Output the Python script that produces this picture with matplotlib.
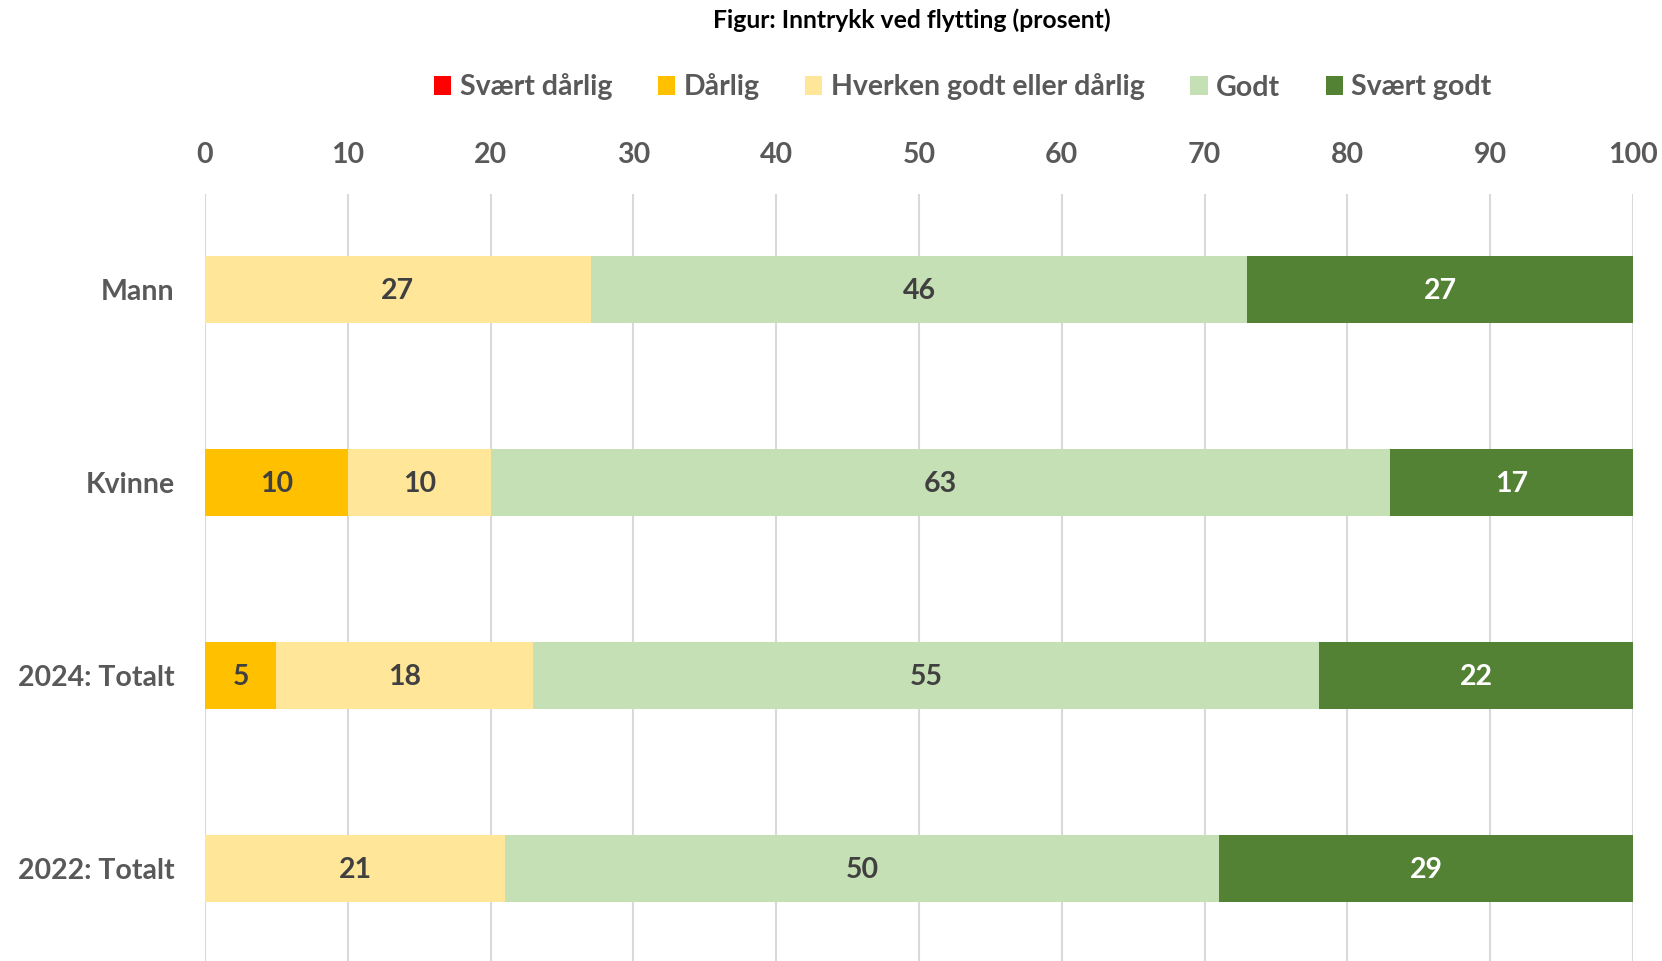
import numpy as np
import matplotlib
matplotlib.use("Agg")
import matplotlib.pyplot as plt

# data
groups = ['Mann', 'Kvinne', '2024: Totalt', '2022: Totalt']
series = ['Svært dårlig', 'Dårlig', 'Hverken godt eller dårlig', 'Godt', 'Svært godt']
svaert_darlig = [0, 0, 0, 0]
darlig = [0, 10, 5, 0]
hverken = [27, 10, 18, 21]
godt = [46, 63, 55, 50]
svaert_godt = [27, 17, 22, 29]

colors = ['#FF0000', '#FFC000', '#FFE699', '#C5E0B4', '#548235']
label_colors = ['#404040', '#404040', '#404040', '#404040', '#FFFFFF']

plt.rcParams['font.family'] = ['Lato', 'DejaVu Sans']
plt.rcParams['font.weight'] = 'bold'

fig = plt.figure(figsize=(16.62, 9.61), dpi=100)
ax = fig.add_axes([205/1662, 0.0, (1633-205)/1662, 1 - 194/961])

y = np.arange(len(groups))
left = np.zeros(len(groups))
for name, vals, c, lc in zip(series, [svaert_darlig, darlig, hverken, godt, svaert_godt], colors, label_colors):
    vals = np.array(vals, dtype=float)
    bars = ax.barh(y, vals, left=left, height=0.35, color=c, label=name, zorder=3)
    for b, v in zip(bars, vals):
        if v > 0:
            ax.text(b.get_x() + b.get_width()/2, b.get_y() + b.get_height()/2 + 0.01, f'{v:.0f}',
                    ha='center', va='center', color=lc, fontsize=20.5, fontweight='bold', zorder=4)
    left += vals

ax.set_xlim(0, 100)
ax.set_ylim(3.48, -0.495)
ax.set_xticks(range(0, 101, 10))
ax.set_yticks(y)
ax.set_yticklabels(groups)
ax.xaxis.tick_top()
ax.tick_params(axis='x', length=0, pad=19, labelsize=20.5, labelcolor='#595959')
ax.tick_params(axis='y', length=0, pad=22, labelsize=20.5, labelcolor='#595959')
for lab in ax.get_xticklabels() + ax.get_yticklabels():
    lab.set_fontweight('bold')
ax.grid(axis='x', color='#D9D9D9', linewidth=1.5, zorder=0)
for s in ax.spines.values():
    s.set_visible(False)

fig.text(912/1662, 1 - 20/961, 'Figur: Inntrykk ved flytting (prosent)', ha='center', va='center',
         fontsize=17.8, fontweight='bold', color='#000000')

leg = fig.legend(loc='center', bbox_to_anchor=(963/1662, 1 - 87/961), ncol=5, frameon=False,
                 handlelength=0.6, handleheight=0.6, handletextpad=0.3, columnspacing=1.6,
                 prop={'size': 20.5, 'weight': 'bold'})
for t in leg.get_texts():
    t.set_color('#595959')

fig.savefig('out.png', dpi=100)
